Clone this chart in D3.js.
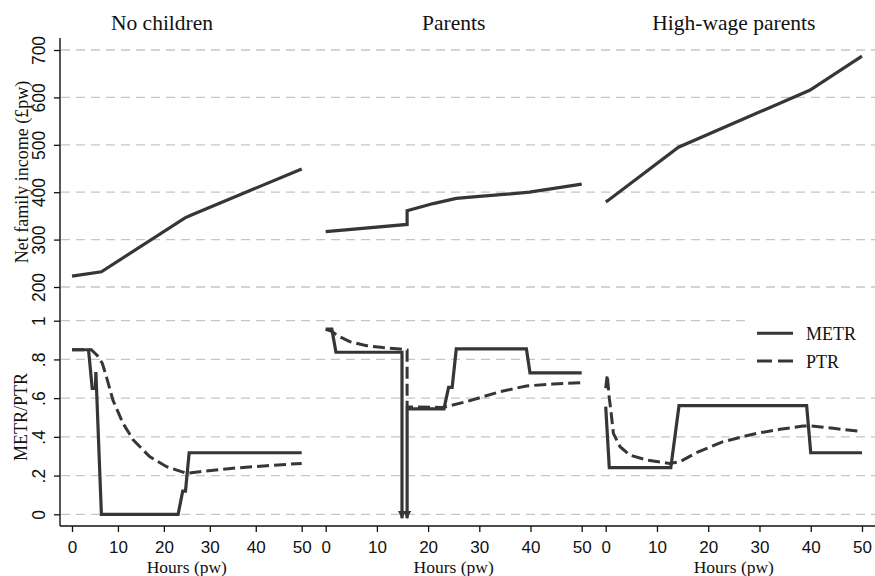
<!DOCTYPE html>
<html>
<head>
<meta charset="utf-8">
<script src="https://cdn.jsdelivr.net/npm/d3@7"></script>
<style>
  html, body { margin: 0; padding: 0; background: #fff; }
  svg { display: block; font-family: "Liberation Serif", "Times New Roman", serif; }
</style>
</head>
<body>
<svg id="chart" width="875" height="576"></svg>
<script>
// ---- Data -------------------------------------------------------------
const panelTitles = ["No children", "Parents", "High-wage parents"];
const hourTicks = [0, 10, 20, 30, 40, 50];
const incomeTicks = [200, 300, 400, 500, 600, 700];
const rateTicks = [0, 0.2, 0.4, 0.6, 0.8, 1];
const rateTickLabels = ["0", ".2", ".4", ".6", ".8", "1"];
const legendLabels = ["METR", "PTR"];

// Net family income (£pw) by hours worked
const incomeNoChildren = [[0, 223], [6.4, 232], [24.6, 346], [26, 352], [50, 449]];
const incomeParents = [[0, 317], [15.9, 332], [15.9, 361], [21, 376], [25.5, 387], [30, 391], [39.8, 400], [50, 417]];
const incomeHighWage = [[0, 380], [0.4, 382], [14.2, 495], [39.8, 615], [50, 687]];

// METR falls below the axis around 15-16 hours for parents
const offScale = -0.02;

// Marginal effective tax rates
const metrNoChildren = [[0, 0.85], [3.6, 0.85], [4.4, 0.65], [5.1, 0.65], [5.2, 0.735], [6.4, 0], [23.1, 0], [24.1, 0.12], [24.7, 0.12], [25.5, 0.318], [50, 0.318]];
const metrParentsBefore = [[0, 0.956], [1.2, 0.956], [2, 0.837], [14.9, 0.837], [14.9, offScale]];
const metrParentsAfter = [[15.9, offScale], [15.9, 0.545], [23.1, 0.545], [24, 0.656], [24.7, 0.656], [25.5, 0.854], [39.2, 0.854], [39.9, 0.731], [50, 0.731]];
const metrHighWage = [[0, 0.556], [0.7, 0.241], [12.7, 0.241], [14.3, 0.561], [39.2, 0.561], [40, 0.318], [50, 0.318]];

// Participation tax rates
const ptrNoChildren = [[0, 0.85], [4.2, 0.85], [5.5, 0.82], [6.6, 0.78], [7.5, 0.71], [8.9, 0.59], [11.1, 0.47], [13.3, 0.385], [16.9, 0.298], [20.6, 0.246], [24.9, 0.212], [27.8, 0.22], [35.1, 0.238], [42.4, 0.251], [50, 0.263]];
const ptrParents = [[0, 0.956], [1.2, 0.945], [2.1, 0.926], [4.7, 0.892], [8, 0.871], [11.2, 0.861], [14.5, 0.854], [15.9, 0.848], [15.9, 0.555], [22.9, 0.552], [27.5, 0.582], [34, 0.633], [39.2, 0.663], [44.4, 0.673], [50, 0.68]];
const ptrHighWage = [[0, 0.651], [0.3, 0.72], [0.7, 0.6], [1, 0.539], [1.5, 0.418], [2.8, 0.349], [4.7, 0.306], [8, 0.28], [12.5, 0.263], [14.5, 0.272], [17.7, 0.318], [22.9, 0.375], [29.4, 0.418], [34, 0.439], [38.5, 0.456], [40, 0.456], [44.4, 0.444], [50, 0.427]];

// ---- Layout -----------------------------------------------------------
const W = 875, H = 576;
const axisX = 60;                  // shared y-axis position
const panelEdges = [60, 313.7, 593.7, 874];
const pad = 12;                    // inner padding of each panel's x range
const axisTop = 38, axisBottom = 526;

const ink = "#111";
const lineInk = "#363636";
const gridInk = "#c6c6c6";
const fontTick = 17, fontLabel = 17.5, fontTitle = 21.5;

const svg = d3.select("#chart");
svg.append("rect").attr("width", W).attr("height", H).attr("fill", "#fff");

const yIncome = d3.scaleLinear().domain([200, 700]).range([287, 50]);
const yRate = d3.scaleLinear().domain([0, 1]).range([514.3, 320.7]);

const xScales = panelTitles.map((t, i) =>
  d3.scaleLinear().domain([0, 50]).range([panelEdges[i] + pad, panelEdges[i + 1] - pad]));

// ---- Gridlines ----------------------------------------------------------
const grid = svg.append("g");
const gridYs = incomeTicks.map(v => yIncome(v)).concat(rateTicks.map(v => yRate(v)));
grid.selectAll("line").data(gridYs).join("line")
  .attr("x1", axisX + 1).attr("x2", W)
  .attr("y1", d => d).attr("y2", d => d)
  .attr("stroke", gridInk).attr("stroke-width", 1.3)
  .attr("stroke-dasharray", "9,6");

// ---- Y axes -------------------------------------------------------------
function drawYAxis(scale, ticks, fmt) {
  const g = svg.append("g").attr("transform", `translate(${axisX},0)`)
    .call(d3.axisLeft(scale).tickValues(ticks).tickSize(6).tickFormat(fmt));
  g.select(".domain").remove();
  g.selectAll(".tick line").attr("stroke", ink).attr("stroke-width", 1.3);
  g.selectAll(".tick text")
    .attr("x", null).attr("dy", null)
    .attr("font-size", fontLabel).attr("fill", ink)
    .attr("text-anchor", "middle")
    .attr("transform", "translate(-15,0) rotate(-90)");
}
drawYAxis(yIncome, incomeTicks, d => String(d));
drawYAxis(yRate, rateTicks, (d, i) => rateTickLabels[i]);

svg.append("line")
  .attr("x1", axisX).attr("x2", axisX).attr("y1", axisTop).attr("y2", axisBottom)
  .attr("stroke", ink).attr("stroke-width", 1.4);

svg.append("text")
  .attr("transform", "translate(28,172) rotate(-90)")
  .attr("text-anchor", "middle").attr("font-size", fontLabel + 0.5).attr("fill", ink)
  .text("Net family income (£pw)");
svg.append("text")
  .attr("transform", "translate(27,417) rotate(-90)")
  .attr("text-anchor", "middle").attr("font-size", fontLabel + 0.5).attr("fill", ink)
  .text("METR/PTR");

// ---- X axes -------------------------------------------------------------
svg.append("line")
  .attr("x1", axisX).attr("x2", W).attr("y1", axisBottom).attr("y2", axisBottom)
  .attr("stroke", ink).attr("stroke-width", 1.4);

xScales.forEach((x, i) => {
  const g = svg.append("g").attr("transform", `translate(0,${axisBottom})`)
    .call(d3.axisBottom(x).tickValues(hourTicks).tickSize(6));
  g.select(".domain").remove();
  g.selectAll(".tick line").attr("stroke", ink).attr("stroke-width", 1.3);
  g.selectAll(".tick text")
    .attr("y", 26.5).attr("dy", null)
    .attr("font-size", fontTick).attr("fill", ink);

  const cx = (panelEdges[i] + panelEdges[i + 1]) / 2;
  svg.append("text")
    .attr("x", cx).attr("y", 572.5)
    .attr("text-anchor", "middle").attr("font-size", fontLabel).attr("fill", ink)
    .text("Hours (pw)");

  svg.append("text")
    .attr("x", i === 0 ? 162 : cx).attr("y", 30)
    .attr("text-anchor", "middle").attr("font-size", fontTitle).attr("fill", ink)
    .text(panelTitles[i]);
});

// ---- Legend box (covers gridlines) -------------------------------------
svg.append("rect")
  .attr("x", 748).attr("y", 317).attr("width", W - 748).attr("height", 60)
  .attr("fill", "#fff");

// ---- Arrowhead marker ---------------------------------------------------
svg.append("defs").append("marker")
  .attr("id", "arrow")
  .attr("viewBox", "0 0 10 10")
  .attr("refX", 9).attr("refY", 5)
  .attr("markerUnits", "userSpaceOnUse")
  .attr("markerWidth", 11).attr("markerHeight", 8)
  .attr("orient", "auto-start-reverse")
  .append("path").attr("d", "M0,0 L10,5 L0,10 Z").attr("fill", lineInk);

// ---- Series -------------------------------------------------------------
function drawLine(data, x, y, dashed, markStart, markEnd) {
  const line = d3.line().x(d => x(d[0])).y(d => y(d[1]));
  const p = svg.append("path")
    .datum(data)
    .attr("d", line)
    .attr("fill", "none")
    .attr("stroke", lineInk)
    .attr("stroke-width", dashed ? 3 : 3.2)
    .attr("stroke-linejoin", "miter")
    .attr("stroke-linecap", "butt");
  if (dashed) p.attr("stroke-dasharray", "12,5");
  if (markStart) p.attr("marker-start", "url(#arrow)");
  if (markEnd) p.attr("marker-end", "url(#arrow)");
  return p;
}

const incomes = [incomeNoChildren, incomeParents, incomeHighWage];
incomes.forEach((d, i) => drawLine(d, xScales[i], yIncome, false));

drawLine(ptrNoChildren, xScales[0], yRate, true);
drawLine(metrNoChildren, xScales[0], yRate, false);

drawLine(ptrParents, xScales[1], yRate, true);
drawLine(metrParentsBefore, xScales[1], yRate, false, false, true);
drawLine(metrParentsAfter, xScales[1], yRate, false, true, false);

drawLine(ptrHighWage, xScales[2], yRate, true);
drawLine(metrHighWage, xScales[2], yRate, false);

// ---- Legend -------------------------------------------------------------
const legend = svg.append("g");
const legendYs = [333.3, 361];
legendLabels.forEach((lab, i) => {
  legend.append("line")
    .attr("x1", 757).attr("x2", 793)
    .attr("y1", legendYs[i]).attr("y2", legendYs[i])
    .attr("stroke", lineInk).attr("stroke-width", 3)
    .attr("stroke-dasharray", i === 1 ? "15,6" : null);
  legend.append("text")
    .attr("x", 806).attr("y", legendYs[i] + 6.5)
    .attr("font-size", fontLabel + 0.5).attr("fill", ink)
    .text(lab);
});
</script>
</body>
</html>
